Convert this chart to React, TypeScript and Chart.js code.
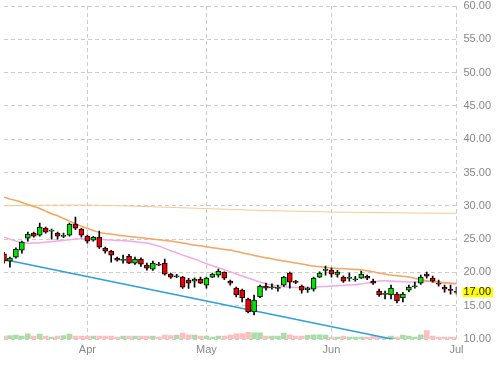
import React, { useEffect, useRef } from 'react';
import { Chart, registerables } from 'chart.js';

Chart.register(...registerables);

// ---- categories (trading days) ----
const YEAR = 2022;
const MONTH_NAMES = ['Mar', 'Apr', 'May', 'Jun', 'Jul'];
const MONTH_NUMBERS = [3, 4, 5, 6, 7];
const MAR_DAYS = [14, 15, 16, 17, 18, 21, 22, 23, 24, 25, 28, 29, 30, 31];
const APR_DAYS = [1, 4, 5, 6, 7, 8, 11, 12, 13, 14, 18, 19, 20, 21, 22, 25, 26, 27, 28, 29];
const MAY_DAYS = [2, 3, 4, 5, 6, 9, 10, 11, 12, 13, 16, 17, 18, 19, 20, 23, 24, 25, 26, 27, 31];
const JUN_DAYS = [1, 2, 3, 6, 7, 8, 9, 10, 13, 14, 15, 16, 17, 21, 22, 23, 24, 27, 28, 29, 30];
const JUL_DAYS = [1];
const DAYS_BY_MONTH = [MAR_DAYS, APR_DAYS, MAY_DAYS, JUN_DAYS, JUL_DAYS];
const LABELED_MONTHS = ['Apr', 'May', 'Jun', 'Jul'];

// ---- price series ----
const OPEN = [
  22.8, 21.7, 22.3, 23.35, 25.15, 25.9, 25.6, 26.65, 26.2, 25.9,
  25.4, 25.6, 27.25, 26.5, 25.45, 24.85, 25.3, 23.65, 23.2, 22.15,
  21.8, 22.45, 21.4, 22.0, 21.1, 20.5, 21.25, 21.4, 19.75, 19.35,
  19.3, 18.85, 18.7, 19.0, 18.1, 19.3, 19.6, 20.05, 18.7, 17.65,
  17.35, 16.0, 14.05, 16.3, 17.95, 17.7, 17.6, 18.1, 19.9, 18.65,
  17.95, 17.4, 17.5, 19.3, 20.3, 20.35, 19.7, 19.3, 19.1, 18.9,
  19.15, 19.45, 18.7, 17.2, 16.7, 16.6, 16.75, 16.15, 17.35, 17.85,
  18.4, 19.75, 19.15, 18.4, 17.8, 17.45, 17.15,
];
const HIGH = [
  23.0, 22.3, 23.7, 24.7, 26.05, 26.05, 27.4, 26.8, 26.5, 26.05,
  25.9, 27.4, 28.3, 26.6, 25.6, 25.4, 26.2, 23.8, 23.3, 22.3,
  22.6, 22.7, 22.3, 22.2, 21.4, 21.7, 21.5, 22.0, 19.9, 19.7,
  19.4, 19.1, 19.2, 19.3, 19.3, 19.9, 20.5, 20.1, 18.85, 17.8,
  17.5, 16.15, 16.6, 18.1, 18.4, 18.3, 18.1, 19.4, 20.05, 18.8,
  18.1, 17.8, 19.3, 20.1, 20.95, 20.65, 20.3, 19.5, 19.9, 19.4,
  20.2, 19.6, 19.0, 17.5, 17.2, 18.1, 17.0, 17.0, 18.1, 18.55,
  19.6, 20.05, 19.45, 18.85, 18.1, 18.1, 17.8,
];
const LOW = [
  21.4, 20.8, 22.15, 22.9, 24.7, 25.3, 25.45, 25.9, 25.0, 25.0,
  25.2, 25.45, 26.4, 25.3, 24.4, 24.7, 23.6, 22.9, 21.55, 21.7,
  21.4, 21.3, 21.2, 20.9, 20.35, 20.3, 21.0, 19.6, 19.1, 19.2,
  17.6, 17.6, 17.8, 18.3, 17.65, 19.2, 19.3, 18.9, 18.1, 16.3,
  15.55, 13.9, 13.6, 16.2, 17.35, 17.5, 17.2, 17.9, 17.65, 18.3,
  16.9, 17.0, 17.2, 19.2, 19.6, 19.3, 19.3, 18.5, 18.7, 18.7,
  19.1, 18.9, 18.2, 16.4, 16.0, 16.0, 15.4, 15.55, 17.1, 17.65,
  18.2, 19.15, 18.55, 17.95, 17.05, 16.75, 16.75,
];
const CLOSE = [
  21.7, 22.15, 23.5, 24.55, 25.75, 25.45, 26.8, 26.05, 26.35, 25.45,
  25.55, 27.25, 26.65, 25.6, 24.7, 25.3, 23.8, 23.2, 22.6, 21.85,
  21.95, 21.4, 22.0, 21.25, 20.65, 21.4, 21.1, 19.75, 19.3, 19.5,
  17.8, 18.4, 19.0, 18.4, 19.15, 19.75, 20.2, 19.15, 18.4, 16.6,
  16.15, 14.05, 15.85, 17.95, 17.65, 17.85, 17.75, 19.3, 18.55, 18.5,
  17.35, 17.65, 19.15, 19.9, 20.45, 19.75, 20.05, 18.7, 19.25, 19.05,
  19.75, 19.15, 18.4, 16.6, 16.85, 17.65, 15.7, 16.75, 17.8, 18.0,
  19.3, 19.45, 18.7, 18.25, 17.5, 17.3, 17.0,
];
// volume, millions of shares
const VOLUME = [
  0.72, 0.8, 0.96, 0.72, 1.27, 0.72, 1.2, 0.72, 0.48, 0.72,
  0.8, 1.2, 0.72, 0.72, 0.72, 0.72, 0.72, 0.72, 0.72, 0.48,
  0.72, 0.72, 0.72, 0.72, 0.72, 0.72, 0.48, 0.96, 0.8, 0.96,
  1.4, 1.03, 0.96, 0.72, 0.72, 0.48, 0.72, 0.72, 0.96, 1.27,
  1.3, 1.6, 1.5, 1.5, 0.72, 0.72, 0.72, 1.4, 1.03, 0.72,
  0.72, 0.89, 1.03, 1.03, 0.96, 0.48, 0.48, 0.72, 0.48, 0.48,
  0.48, 0.48, 0.72, 0.48, 0.48, 0.72, 0.48, 0.96, 0.72, 0.48,
  1.03, 2.0, 0.72, 0.48, 0.48, 0.48, 0.48,
];

// ---- moving averages ----
const MA_SHORT = [
  25.3, 25.0, 24.7, 24.5, 24.4, 24.4, 24.45, 24.55, 24.6, 24.7,
  24.8, 24.9, 25.0, 25.05, 25.05, 25.0, 24.95, 24.9, 24.85, 24.8,
  24.75, 24.7, 24.6, 24.5, 24.4, 24.2, 23.95, 23.6, 23.25, 22.95,
  22.6, 22.3, 22.0, 21.65, 21.3, 21.0, 20.7, 20.4, 20.1, 19.75,
  19.45, 19.15, 18.85, 18.55, 18.3, 18.1, 17.95, 17.85, 17.8, 17.75,
  17.75, 17.75, 17.8, 17.85, 17.9, 17.95, 18.0, 18.05, 18.1, 18.15,
  18.25, 18.4, 18.55, 18.7, 18.75, 18.7, 18.65, 18.6, 18.55, 18.55,
  18.6, 18.65, 18.65, 18.6, 18.5, 18.4, 18.3,
];
const MA_MID = [
  31.3, 31.0, 30.8, 30.5, 30.2, 29.9, 29.6, 29.2, 28.8, 28.5,
  28.1, 27.7, 27.3, 26.9, 26.6, 26.3, 26.0, 25.85, 25.75, 25.6,
  25.5, 25.4, 25.3, 25.2, 25.1, 25.0, 24.9, 24.8, 24.7, 24.55,
  24.4, 24.25, 24.1, 24.0, 23.85, 23.7, 23.6, 23.45, 23.35, 23.15,
  22.95, 22.75, 22.55, 22.35, 22.2, 22.05, 21.85, 21.7, 21.55, 21.4,
  21.25, 21.1, 20.95, 20.85, 20.75, 20.65, 20.6, 20.55, 20.5, 20.45,
  20.4, 20.25, 20.1, 19.9, 19.75, 19.6, 19.5, 19.4, 19.3, 19.1,
  18.95, 18.75, 18.6, 18.5, 18.4, 18.35, 18.3,
];
const MA_LONG = [
  30.0, 30.02, 30.04, 30.05, 30.06, 30.07, 30.08, 30.09, 30.1, 30.1,
  30.11, 30.12, 30.12, 30.12, 30.11, 30.1, 30.08, 30.06, 30.04, 30.02,
  30.0, 29.97, 29.94, 29.91, 29.88, 29.85, 29.82, 29.79, 29.76, 29.73,
  29.7, 29.67, 29.64, 29.61, 29.58, 29.55, 29.52, 29.49, 29.46, 29.43,
  29.4, 29.37, 29.34, 29.31, 29.28, 29.26, 29.24, 29.22, 29.2, 29.18,
  29.16, 29.14, 29.12, 29.1, 29.08, 29.06, 29.05, 29.04, 29.03, 29.02,
  29.01, 29.0, 28.99, 28.98, 28.97, 28.96, 28.95, 28.94, 28.93, 28.92,
  28.91, 28.9, 28.9, 28.89, 28.88, 28.88, 28.87,
];
// trend line: value at first and last trading day
const TREND_START = 21.95;
const TREND_END = 8.0;

const Y_TICKS = [10, 15, 20, 25, 30, 35, 40, 45, 50, 55, 60];
const LAST_PRICE = CLOSE[CLOSE.length - 1];

// ---- derived tables ----
const DATES: string[] = [];
const MONTH_TICK: string[] = [];
DAYS_BY_MONTH.forEach((days, m) => {
  days.forEach((d, k) => {
    DATES.push(`${YEAR}-${String(MONTH_NUMBERS[m]).padStart(2, '0')}-${String(d).padStart(2, '0')}`);
    const name = MONTH_NAMES[m];
    MONTH_TICK.push(k === 0 && LABELED_MONTHS.includes(name) ? name : '');
  });
});

const UP_BODY = '#00e600';
const DOWN_BODY = '#ee0000';
const UP_VOL = '#a9dfa6';
const DOWN_VOL = '#ffbfbf';
const GRID = '#cccccc';
const CLEAR = 'rgba(0,0,0,0)';
const FONT = "'Liberation Sans', Arial, sans-serif";

export default function App() {
  const ref = useRef<HTMLCanvasElement | null>(null);

  useEffect(() => {
    if (!ref.current) return;
    const up = CLOSE.map((c, i) => c >= OPEN[i]);
    const trend = DATES.map((_, i) => (i === 0 ? TREND_START : i === DATES.length - 1 ? TREND_END : null));

    const chart = new Chart(ref.current, {
      type: 'bar',
      data: {
        labels: DATES,
        datasets: [
          {
            type: 'bar',
            label: 'Volume',
            data: VOLUME,
            yAxisID: 'yv',
            backgroundColor: up.map((u) => (u ? UP_VOL : DOWN_VOL)),
            barThickness: 5,
            grouped: false,
            order: 10,
          } as any,
          {
            type: 'line',
            label: 'MA long',
            data: MA_LONG,
            borderColor: '#f3c98d',
            borderWidth: 1,
            pointRadius: 0,
            tension: 0,
            order: 9,
          },
          {
            type: 'line',
            label: 'MA short',
            data: MA_SHORT,
            borderColor: '#f2a9e6',
            borderWidth: 1.5,
            pointRadius: 0,
            tension: 0.3,
            order: 8,
          },
          {
            type: 'line',
            label: 'MA mid',
            data: MA_MID,
            borderColor: '#f8a55e',
            borderWidth: 1.5,
            pointRadius: 0,
            tension: 0.3,
            order: 7,
          },
          {
            type: 'line',
            label: 'Trend',
            data: trend,
            borderColor: '#2b9fe0',
            borderWidth: 1.5,
            pointRadius: 0,
            spanGaps: true,
            order: 6,
          },
          {
            type: 'bar',
            label: 'Wick',
            data: LOW.map((l, i) => [l, HIGH[i]]),
            backgroundColor: '#000000',
            barThickness: 1,
            grouped: false,
            order: 5,
          } as any,
          {
            type: 'bar',
            label: 'Body',
            data: OPEN.map((o, i) => [o, CLOSE[i]]),
            backgroundColor: up.map((u) => (u ? UP_BODY : DOWN_BODY)),
            borderColor: '#000000',
            borderWidth: 1,
            borderSkipped: false,
            barThickness: 5,
            grouped: false,
            order: 4,
          } as any,
        ],
      },
      options: {
        animation: false,
        responsive: true,
        maintainAspectRatio: false,
        layout: { padding: { top: 6, bottom: 4.8, left: 0.5, right: 0 } },
        plugins: { legend: { display: false }, tooltip: { enabled: false } },
        scales: {
          x: {
            type: 'category',
            offset: false,
            grid: {
              offset: false,
              drawTicks: false,
              color: (ctx: any) => (MONTH_TICK[ctx.index] ? GRID : CLEAR),
              lineWidth: 1,
            },
            border: { display: false, dash: [4, 3] },
            ticks: {
              autoSkip: false,
              maxRotation: 0,
              padding: 4,
              color: '#888888',
              font: { family: FONT, size: 11 },
              callback: (_v: any, i: number) => MONTH_TICK[i],
            },
          },
          y: {
            type: 'linear',
            position: 'right',
            min: 10,
            max: 60,
            afterBuildTicks: (scale: any) => {
              scale.ticks = [...Y_TICKS, LAST_PRICE].sort((a, b) => a - b).map((v) => ({ value: v }));
            },
            afterFit: (scale: any) => {
              scale.width = 41.5;
            },
            grid: {
              drawTicks: true,
              tickLength: 7,
              tickColor: CLEAR,
              color: (ctx: any) => (ctx.tick && ctx.tick.value === LAST_PRICE ? CLEAR : GRID),
            },
            border: { display: false, dash: [4, 3] },
            ticks: {
              autoSkip: false,
              padding: 0,
              font: { family: FONT, size: 11, lineHeight: 0.9 },
              color: (ctx: any) => (ctx.tick && ctx.tick.value === LAST_PRICE ? '#222222' : '#888888'),
              showLabelBackdrop: (ctx: any) => !!(ctx.tick && ctx.tick.value === LAST_PRICE),
              backdropColor: '#ffff00',
              backdropPadding: { left: 1, right: 2, top: 0, bottom: 0 },
              callback: (v: any) => Number(v).toFixed(2),
            },
          },
          yv: {
            type: 'linear',
            display: false,
            min: 0,
            max: 80,
          },
        },
      } as any,
    });
    return () => chart.destroy();
  }, []);

  return (
    <div style={{ position: 'fixed', left: 0, top: 0, width: 498, height: 365, background: '#fff' }}>
      <canvas ref={ref} />
    </div>
  );
}
